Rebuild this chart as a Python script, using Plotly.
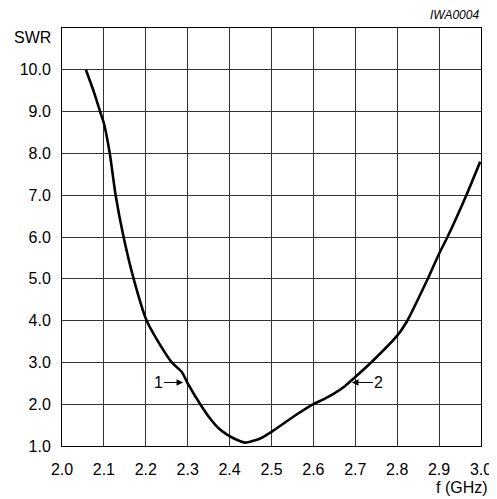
import plotly.graph_objects as go

freq_ghz = [2.057, 2.075, 2.091, 2.100, 2.114, 2.128, 2.147, 2.171, 2.202, 2.228,
            2.262, 2.286, 2.300, 2.330, 2.354, 2.373, 2.393, 2.417, 2.437, 2.473,
            2.500, 2.552, 2.600, 2.623, 2.647, 2.675, 2.700, 2.742, 2.800, 2.822,
            2.873, 2.900, 2.920, 2.965, 2.998]
swr = [10.0, 9.5, 9.0, 8.72, 8.0, 7.0, 6.0, 5.0, 4.0, 3.52,
       3.0, 2.77, 2.5, 2.0, 1.65, 1.43, 1.28, 1.15, 1.08, 1.18,
       1.34, 1.70, 2.0, 2.11, 2.24, 2.43, 2.65, 3.04, 3.64, 3.96,
       5.0, 5.6, 6.0, 7.0, 7.8]

x_ticks = [2.0, 2.1, 2.2, 2.3, 2.4, 2.5, 2.6, 2.7, 2.8, 2.9, 3.0]
x_labels = ["2.0", "2.1", "2.2", "2.3", "2.4", "2.5", "2.6", "2.7", "2.8", "2.9", "3.0"]
y_ticks = [1, 2, 3, 4, 5, 6, 7, 8, 9, 10]
y_labels = ["1.0", "2.0", "3.0", "4.0", "5.0", "6.0", "7.0", "8.0", "9.0", "10.0"]

marker1 = (2.289, 2.52)
marker2 = (2.692, 2.52)

FONT = "Liberation Sans, Arial, Helvetica, sans-serif"

fig = go.Figure()
fig.add_trace(go.Scatter(x=freq_ghz, y=swr, mode="lines",
                         line=dict(color="black", width=2.6, shape="spline", smoothing=0.6),
                         hoverinfo="skip", showlegend=False))

fig.update_xaxes(range=[2.0, 3.0], tickvals=x_ticks, ticktext=x_labels,
                 showgrid=True, gridcolor="#333333", gridwidth=1,
                 showline=True, linecolor="black", linewidth=1, mirror=True,
                 zeroline=False, ticks="", ticklen=0, automargin=False,
                 ticklabelstandoff=9,
                 tickfont=dict(family=FONT, size=16, color="black"))
fig.update_yaxes(range=[1.0, 11.0], tickvals=y_ticks + [11], ticktext=y_labels + [""],
                 showgrid=True, gridcolor="#333333", gridwidth=1,
                 showline=True, linecolor="black", linewidth=1, mirror=True,
                 zeroline=False, ticks="", ticklen=0, automargin=False,
                 ticklabelstandoff=7,
                 tickfont=dict(family=FONT, size=16, color="black"))

fig.add_annotation(x=marker1[0], y=marker1[1], text="1", showarrow=True,
                   ax=-25, ay=0, arrowhead=2, arrowsize=1.3, arrowwidth=1,
                   arrowcolor="black", font=dict(family=FONT, size=16, color="black"))
fig.add_annotation(x=marker2[0], y=marker2[1], text="2", showarrow=True,
                   ax=27, ay=0, arrowhead=2, arrowsize=1.3, arrowwidth=1,
                   arrowcolor="black", font=dict(family=FONT, size=16, color="black"))

fig.add_annotation(xref="paper", yref="paper", x=0, y=1, xshift=-9, yshift=-9,
                   xanchor="right", yanchor="middle", text="SWR", showarrow=False,
                   font=dict(family=FONT, size=16, color="black"))
fig.add_annotation(xref="paper", yref="paper", x=1, y=1, yshift=13,
                   xanchor="right", yanchor="middle", text="<i>IWA0004</i>", showarrow=False,
                   font=dict(family=FONT, size=12, color="black"))
fig.add_annotation(xref="paper", yref="paper", x=1, y=0, xshift=9, yshift=-41,
                   xanchor="right", yanchor="middle", text="f (GHz)", showarrow=False,
                   font=dict(family=FONT, size=16, color="black"))

# The page body has an 8px default margin; size the figure so it fits the window.
fig.update_layout(width=489, height=491,
                  margin=dict(l=54, r=16, t=20, b=53),
                  paper_bgcolor="white", plot_bgcolor="white",
                  font=dict(family=FONT, size=16, color="black"))

fig.write_html("out.html")
